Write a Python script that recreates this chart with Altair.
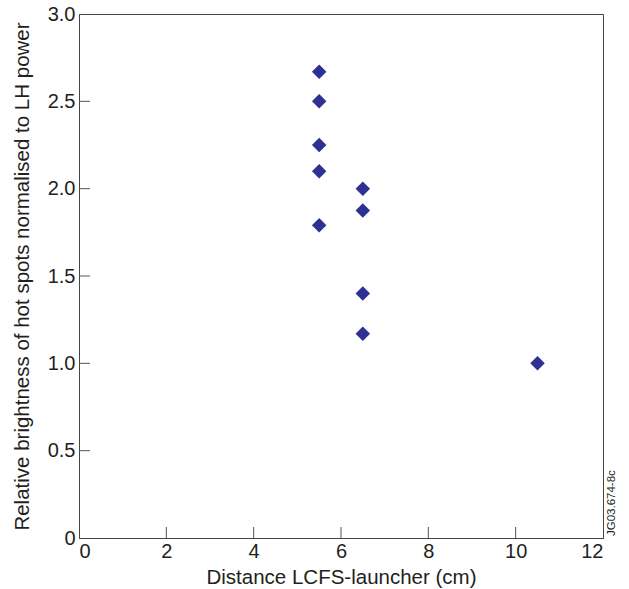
import altair as alt
import pandas as pd

distance = [5.5, 5.5, 5.5, 5.5, 5.5, 6.5, 6.5, 6.5, 6.5, 10.5]
brightness = [2.67, 2.50, 2.25, 2.10, 1.79, 2.00, 1.875, 1.40, 1.17, 1.00]

x_ticks = [2, 4, 6, 8, 10]
y_ticks = [0.5, 1.0, 1.5, 2.0, 2.5]

FONT = "Liberation Sans"
COLOR = "#2e3192"
W, H = 524, 524

df = pd.DataFrame({"d": distance, "b": brightness})
xt = pd.DataFrame({"t": x_ticks})
yt = pd.DataFrame({"t": y_ticks})

xscale = alt.Scale(domain=[0, 12], nice=False, zero=False)
yscale = alt.Scale(domain=[0, 3], nice=False, zero=False)

points = alt.Chart(df).mark_point(
    shape="diamond", filled=True, size=210, color=COLOR, opacity=1
).encode(
    x=alt.X("d:Q", scale=xscale, title="Distance LCFS-launcher (cm)",
            axis=alt.Axis(values=[0, 2, 4, 6, 8, 10, 12], format="d", ticks=False,
                          grid=False, labelPadding=3, titlePadding=6)),
    y=alt.Y("b:Q", scale=yscale, title="Relative brightness of hot spots normalised to LH power",
            axis=alt.Axis(values=[0, 0.5, 1.0, 1.5, 2.0, 2.5, 3.0], ticks=False, grid=False,
                          labelExpr="datum.value == 0 ? '0' : format(datum.value, '.1f')",
                          labelPadding=4, titlePadding=15)),
)

xtick_marks = alt.Chart(xt).mark_rule(color="#555555", strokeWidth=1).encode(
    x=alt.X("t:Q", scale=xscale), y=alt.value(H), y2=alt.value(H - 11)
)
ytick_marks = alt.Chart(yt).mark_rule(color="#555555", strokeWidth=1).encode(
    y=alt.Y("t:Q", scale=yscale), x=alt.value(0), x2=alt.value(11)
)

stamp = alt.Chart(pd.DataFrame({"s": ["JG03.674-8c"]})).mark_text(
    angle=270, font=FONT, fontSize=11.5, color="#231f20", align="left", baseline="middle"
).encode(text="s:N", x=alt.value(533), y=alt.value(H - 2))

chart = alt.layer(xtick_marks, ytick_marks, points, stamp).properties(
    width=W, height=H,
    autosize=alt.AutoSizeParams(type="none"),
    padding={"left": 79, "top": 14, "right": 26, "bottom": 51},
).configure_view(stroke="#444444", strokeWidth=1).configure_axis(
    labelFont=FONT, titleFont=FONT, labelFontSize=20, titleFontSize=20.5,
    labelColor="#231f20", titleColor="#231f20", titleFontWeight="normal",
    domainColor="#444444", domainWidth=1,
)

chart.save("out.html", embed_options={"renderer": "svg", "actions": False})
